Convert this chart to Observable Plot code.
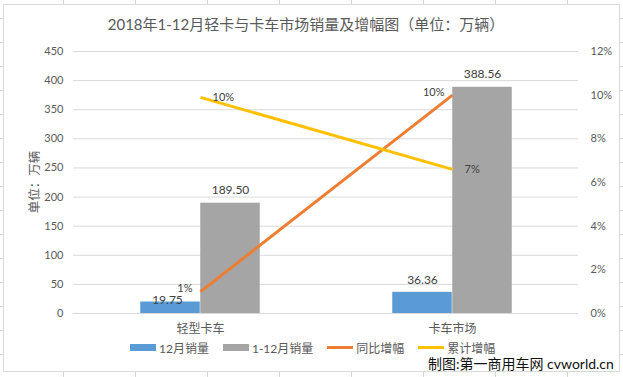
<!DOCTYPE html>
<html><head><meta charset="utf-8">
<script src="https://cdn.jsdelivr.net/npm/d3@7"></script>
<script src="https://cdn.jsdelivr.net/npm/@observablehq/plot@0.6"></script>
<style>
html,body{margin:0;padding:0;width:623px;height:377px;overflow:hidden;background:#fff;}
#bg{position:absolute;left:0;top:0;width:623px;height:377px;
 background-image:linear-gradient(to right,#d6d6d6 1px,transparent 1px),linear-gradient(to bottom,#d6d6d6 1px,transparent 1px);
 background-size:72px 24px;background-position:63px 18px;}
#box{position:absolute;left:3px;top:4px;width:617px;height:368px;box-sizing:border-box;background:#fff;border:1px solid #d9d9d9;}
#plot{position:absolute;left:0;top:0;}
#title{position:absolute;left:0;width:612px;top:14px;line-height:20px;text-align:center;font-family:Lato,"Noto Sans CJK SC",sans-serif;font-size:15px;color:#595959;}
#ytitle{position:absolute;left:33px;top:182px;transform:translate(-50%,-50%) rotate(-90deg);white-space:nowrap;font-family:Lato,"Noto Sans CJK SC",sans-serif;font-size:12.5px;color:#595959;}
#legend{position:absolute;left:130px;top:339px;height:16px;display:flex;align-items:center;font-family:Lato,"Noto Sans CJK SC",sans-serif;font-size:12px;color:#595959;}
.item{display:flex;align-items:center;margin-right:14px;}
.sw{width:26px;margin-right:3px;}
#caption{position:absolute;left:428px;top:355px;line-height:18px;font-family:Lato,"Noto Sans CJK SC",sans-serif;font-size:14px;color:#111;white-space:nowrap;}
</style></head>
<body>
<div id="bg"></div>
<div id="box"></div>
<div id="plot"></div>
<div id="title">2018年1-12月轻卡与卡车市场销量及增幅图（单位：万辆）</div>
<div id="ytitle">单位：万辆</div>
<div id="legend"></div>
<div id="caption">制图:第一商用车网 cvworld.cn</div>
<script>
const categories = ["轻型卡车", "卡车市场"];
const decSales = [19.75, 36.36];      // 12月销量 (万辆)
const ytdSales = [189.50, 388.56];    // 1-12月销量 (万辆)
const yoyGrowth = [1.0, 10.0];        // 同比增幅 (%)
const cumGrowth = [9.9, 6.6];         // 累计增幅 (%)
const leftTicks = [0, 50, 100, 150, 200, 250, 300, 350, 400, 450];
const rightTicks = [0, 2, 4, 6, 8, 10, 12];
const seriesNames = ["12月销量", "1-12月销量", "同比增幅", "累计增幅"];
const seriesColors = ["#5B9BD5", "#A5A5A5", "#ED7D31", "#FFC000"];
const seriesKinds = ["bar", "bar", "line", "line"];

const yMax = leftTicks[leftTicks.length - 1];
const pMax = rightTicks[rightTicks.length - 1];
const k = yMax / pMax;

const rows = categories.map((c, i) => ({
  cat: c, dec: decSales[i], ytd: ytdSales[i], yoy: yoyGrowth[i], cum: cumGrowth[i]
}));

const font = 'Lato, "Noto Sans CJK SC", sans-serif';
const txt = "#404040";

const chart = Plot.plot({
  width: 623, height: 377,
  marginLeft: 73, marginRight: 45, marginTop: 51, marginBottom: 64,
  x: {domain: categories, type: "band", paddingInner: 0, paddingOuter: 0},
  y: {domain: [0, yMax]},
  style: {fontFamily: font, background: "transparent", overflow: "visible"},
  marks: [
    Plot.gridY(leftTicks, {stroke: "#d9d9d9", strokeOpacity: 1, strokeWidth: 1}),
    Plot.axisY(leftTicks, {anchor: "left", tickSize: 0, tickPadding: 10, fontSize: 11, fill: "#595959", label: null}),
    Plot.axisY(rightTicks.map(t => t * k), {anchor: "right", tickSize: 0, tickPadding: 12, fontSize: 11, fill: "#595959", label: null, tickFormat: v => Math.round(v / k) + "%"}),
    Plot.axisX({tickSize: 0, tickPadding: 11, fontSize: 12, fill: "#595959", label: null}),
    Plot.barY(rows, {x: "cat", y: "dec", fill: seriesColors[0], insetLeft: 66.25, insetRight: 126.25}),
    Plot.barY(rows, {x: "cat", y: "ytd", fill: seriesColors[1], insetLeft: 126.25, insetRight: 66.25}),
    Plot.lineY(rows, {x: "cat", y: d => d.yoy * k, stroke: seriesColors[2], strokeWidth: 3, strokeLinecap: "butt"}),
    Plot.lineY(rows, {x: "cat", y: d => d.cum * k, stroke: seriesColors[3], strokeWidth: 3, strokeLinecap: "butt"}),
    Plot.text(rows.slice(0, 1), {x: "cat", y: "dec", text: d => d.dec.toFixed(2), dx: -33, dy: -2, fontSize: 12, fill: txt}),
    Plot.text(rows.slice(1), {x: "cat", y: "dec", text: d => d.dec.toFixed(2), dx: -30, dy: -12, fontSize: 12, fill: txt}),
    Plot.text(rows, {x: "cat", y: "ytd", text: d => d.ytd.toFixed(2), dx: 30, dy: -13, fontSize: 12, fill: txt}),
    Plot.text(rows, {x: "cat", y: d => d.yoy * k, text: d => Math.round(d.yoy) + "%", textAnchor: "end", dx: -8, dy: -3, fontSize: 11, fill: txt}),
    Plot.text(rows, {x: "cat", y: d => d.cum * k, text: d => Math.round(d.cum) + "%", textAnchor: "start", dx: 12, dy: 0, fontSize: 11, fill: txt})
  ]
});
document.getElementById("plot").appendChild(chart);

const legend = document.getElementById("legend");
seriesNames.forEach((name, i) => {
  const item = document.createElement("div");
  item.className = "item";
  const sw = document.createElement("div");
  sw.className = "sw";
  sw.style.background = seriesColors[i];
  sw.style.height = seriesKinds[i] === "bar" ? "7px" : "3px";
  const t = document.createElement("span");
  t.textContent = name;
  item.appendChild(sw); item.appendChild(t);
  legend.appendChild(item);
});
</script>
</body></html>
